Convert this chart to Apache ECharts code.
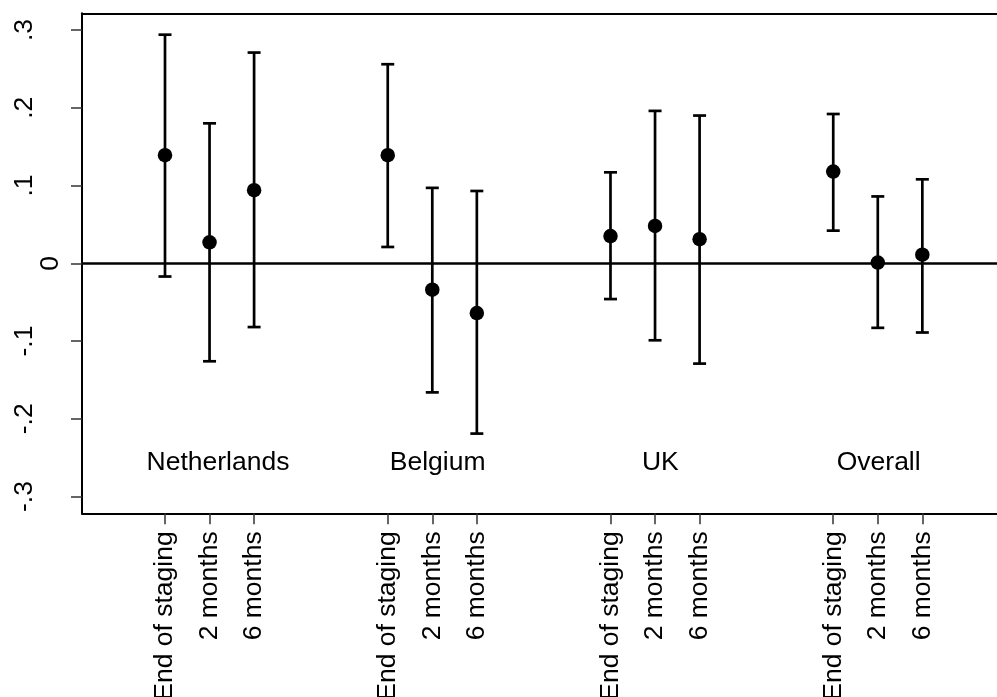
<!DOCTYPE html>
<html>
<head>
<meta charset="utf-8">
<script src="https://cdn.jsdelivr.net/npm/echarts@6/dist/echarts.min.js"></script>
<style>
  html, body { margin: 0; padding: 0; background: #fff; }
  #chart { width: 997px; height: 697px; }
</style>
</head>
<body>
<div id="chart"></div>
<script>
// Country groups and where their names sit on the x scale
const groups = ['Netherlands', 'Belgium', 'UK', 'Overall'];
const groupLabelX = [2.19, 7.12, 12.12, 17.02];
const groupLabelY = -0.257;

// Follow-up moments, repeated within each group
const periods = ['End of staging', '2 months', '6 months'];
const xPositions = [1, 2, 3, 6, 7, 8, 11, 12, 13, 16, 17, 18];

// Point estimates with lower / upper confidence bounds
const estimates = [0.139, 0.027, 0.094, 0.139, -0.034, -0.064, 0.035, 0.048, 0.031, 0.118, 0.001, 0.011];
const lower     = [-0.017, -0.126, -0.082, 0.021, -0.166, -0.219, -0.046, -0.099, -0.129, 0.042, -0.083, -0.089];
const upper     = [0.294, 0.180, 0.271, 0.256, 0.097, 0.093, 0.117, 0.196, 0.190, 0.192, 0.086, 0.108];

// Vertical axis ticks and their labels
const yTicks = [-0.3, -0.2, -0.1, 0, 0.1, 0.2, 0.3];
const yTickLabels = ['-.3', '-.2', '-.1', '0', '.1', '.2', '.3'];

const FONT = "'Liberation Sans', Arial, Helvetica, sans-serif";
const FS = 26.5;

const pointData = xPositions.map((x, i) => [x, estimates[i]]);
const ciData = xPositions.map((x, i) => [x, lower[i], upper[i]]);
const groupData = groups.map((g, i) => ({ name: g, value: [groupLabelX[i], groupLabelY] }));

function periodLabel(v) {
  const i = xPositions.findIndex(p => Math.abs(p - v) < 1e-6);
  return i < 0 ? '' : periods[i % periods.length];
}
function yLabel(v) {
  let best = 0;
  yTicks.forEach((t, i) => { if (Math.abs(t - v) < Math.abs(yTicks[best] - v)) best = i; });
  const s = yTickLabels[best];
  return s === '0' ? '{z|0}' : '{n|' + s + '}';
}

const chart = echarts.init(document.getElementById('chart'), null, { renderer: 'canvas' });

const xMin = -0.863, xMax = 19.676;

chart.setOption({
  animation: false,
  backgroundColor: '#fff',
  grid: { left: 82, right: 0, top: 13.3, bottom: 183.7, containLabel: false, outerBoundsMode: 'none' },
  xAxis: [
    {
      type: 'value', min: xMin, max: xMax, position: 'bottom',
      splitLine: { show: false },
      axisLine: { show: true, onZero: false, lineStyle: { color: '#000', width: 2 } },
      axisTick: { show: true, customValues: xPositions, length: 11, lineStyle: { color: '#333', width: 1.5 } },
      axisLabel: {
        show: true, customValues: xPositions, rotate: 90, margin: 18,
        fontFamily: FONT, fontSize: FS, color: '#000',
        formatter: periodLabel
      }
    },
    {
      type: 'value', min: xMin, max: xMax, position: 'top',
      splitLine: { show: false },
      axisLine: { show: true, onZero: false, lineStyle: { color: '#000', width: 2 } },
      axisTick: { show: false },
      axisLabel: { show: false }
    }
  ],
  yAxis: {
    type: 'value', min: -0.3215, max: 0.3215,
    splitLine: { show: false },
    axisLine: { show: true, onZero: false, lineStyle: { color: '#000', width: 2 } },
    axisTick: { show: true, customValues: yTicks, length: 11, lineStyle: { color: '#333', width: 1.5 } },
    axisLabel: {
      show: true, customValues: yTicks, rotate: 90, margin: 18,
      fontFamily: FONT, fontSize: FS, color: '#000',
      formatter: yLabel,
      rich: {
        n: { fontFamily: FONT, fontSize: FS, color: '#000', padding: [0, 0, 26, 0] },
        z: { fontFamily: FONT, fontSize: FS, color: '#000' }
      }
    }
  },
  series: [
    {
      type: 'custom',
      name: 'ci',
      xAxisIndex: 0,
      data: ciData,
      encode: { x: 0, y: [1, 2] },
      z: 2,
      renderItem: function (params, api) {
        const x = api.value(0);
        const pLo = api.coord([x, api.value(1)]);
        const pHi = api.coord([x, api.value(2)]);
        const cap = 6.5;
        const style = { stroke: '#000', lineWidth: 2.7, fill: null };
        return {
          type: 'group',
          children: [
            { type: 'line', shape: { x1: pLo[0], y1: pLo[1], x2: pHi[0], y2: pHi[1] }, style: style },
            { type: 'line', shape: { x1: pLo[0] - cap, y1: pLo[1], x2: pLo[0] + cap, y2: pLo[1] }, style: style },
            { type: 'line', shape: { x1: pHi[0] - cap, y1: pHi[1], x2: pHi[0] + cap, y2: pHi[1] }, style: style }
          ]
        };
      },
      markLine: {
        silent: true,
        symbol: ['none', 'none'],
        label: { show: false },
        lineStyle: { color: '#000', width: 2.5, type: 'solid', opacity: 1 },
        data: [{ yAxis: 0 }]
      }
    },
    {
      type: 'scatter',
      name: 'estimate',
      xAxisIndex: 0,
      data: pointData,
      symbol: 'circle',
      symbolSize: 14.5,
      itemStyle: { color: '#000', opacity: 1 },
      z: 4
    },
    {
      type: 'scatter',
      name: 'groups',
      xAxisIndex: 0,
      data: groupData,
      symbolSize: 0,
      silent: true,
      itemStyle: { opacity: 1 },
      label: {
        show: true, position: 'inside',
        fontFamily: FONT, fontSize: FS, color: '#000', opacity: 1,
        formatter: p => p.name
      },
      z: 5
    }
  ]
});
</script>
</body>
</html>
